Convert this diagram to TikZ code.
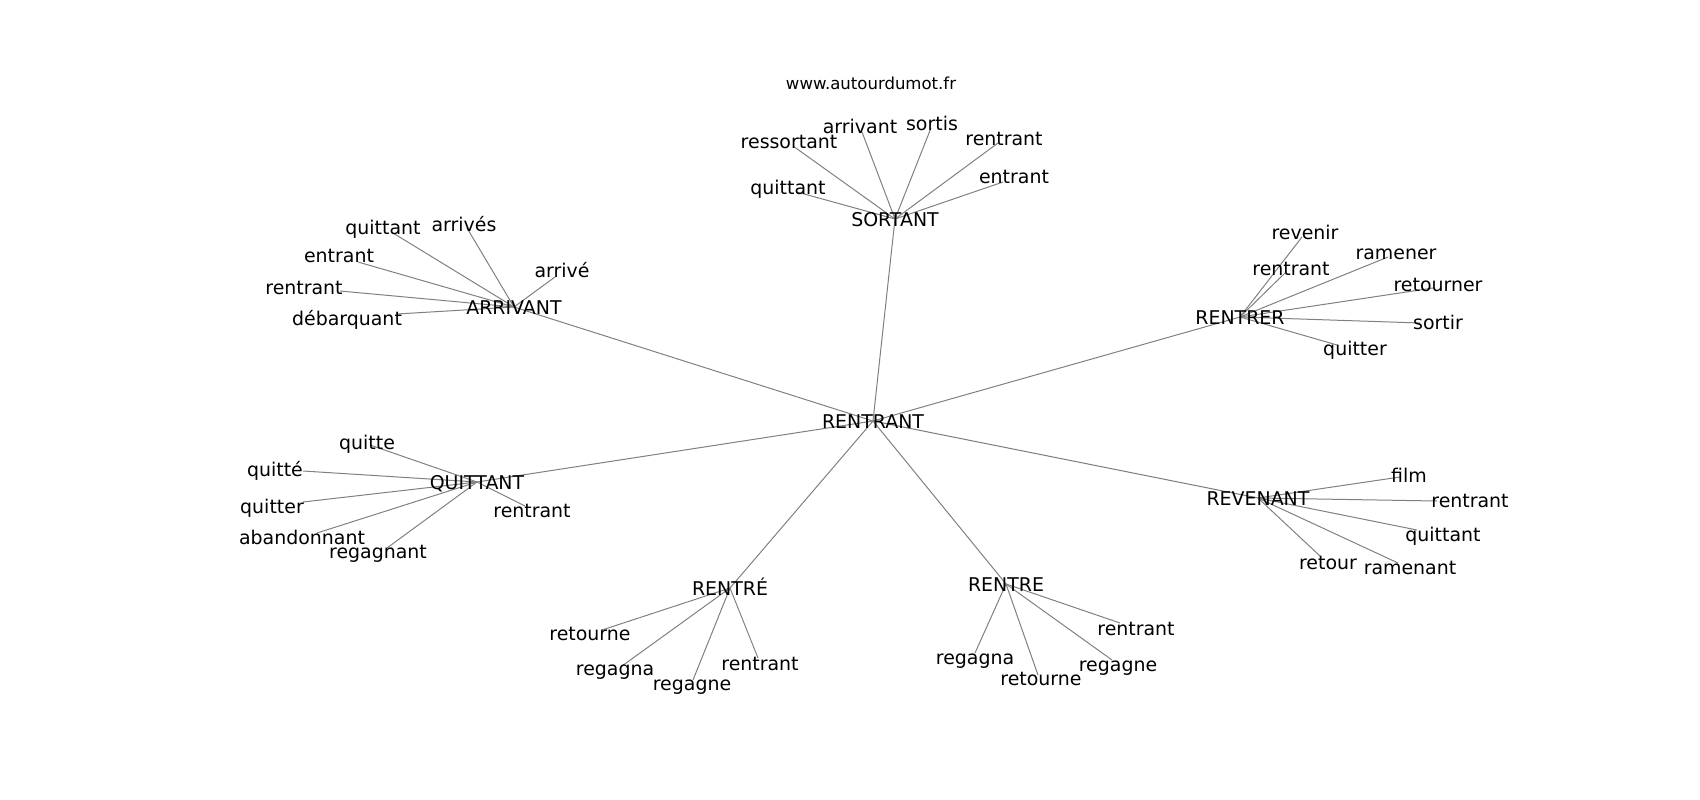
\documentclass[tikz,border=0pt]{standalone}
\usepackage{fontspec}
\setmainfont{DejaVu Sans}
\usetikzlibrary{backgrounds}

\begin{document}
\begin{tikzpicture}[x=0.75pt,y=0.75pt,yscale=-1,xscale=1,
  word/.style={inner sep=0pt, font=\fontsize{14.2}{16}\selectfont, text height=15.3pt, text depth=3.4pt},
  site/.style={inner sep=0pt, font=\fontsize{12.4}{14}\selectfont},
  link/.style={draw={rgb, 255:red, 128; green, 128; blue, 128 }, line width=0.75pt}]
\useasboundingbox (0,0) rectangle (1700,800);

% Text Node
\node [site] (site) at (871,83) {www.autourdumot.fr};

% Hubs
\node [word] (rentrant) at (873,421) {RENTRANT};
\node [word] (sortant) at (895,219) {SORTANT};
\node [word] (arrivant) at (514,307) {ARRIVANT};
\node [word] (rentrer) at (1240,317) {RENTRER};
\node [word] (quittant) at (477,482) {QUITTANT};
\node [word] (revenant) at (1258,498) {REVENANT};
\node [word] (rentreE) at (730,588) {RENTRÉ};
\node [word] (rentre) at (1006,584) {RENTRE};

% Text Node - SORTANT
\node [word] (so-quittant) at (788,187) {quittant};
\node [word] (so-ressortant) at (789,141) {ressortant};
\node [word] (so-arrivant) at (860,126) {arrivant};
\node [word] (so-sortis) at (932,123) {sortis};
\node [word] (so-rentrant) at (1004,138) {rentrant};
\node [word] (so-entrant) at (1014,176) {entrant};
\coordinate (so-quittant-p) at (797,192);
\coordinate (so-ressortant-p) at (793,146);
\coordinate (so-arrivant-p) at (862,132);
\coordinate (so-sortis-p) at (931,128);
\coordinate (so-rentrant-p) at (998,143);
\coordinate (so-entrant-p) at (1003,182);

% Text Node - ARRIVANT
\node [word] (ar-quittant) at (383,227) {quittant};
\node [word] (ar-arrives) at (464,224) {arrivés};
\node [word] (ar-entrant) at (339,255) {entrant};
\node [word] (ar-rentrant) at (304,287) {rentrant};
\node [word] (ar-debarquant) at (347,318) {débarquant};
\node [word] (ar-arrive) at (562,270) {arrivé};
\coordinate (ar-quittant-p) at (393,233);
\coordinate (ar-arrives-p) at (467,228);
\coordinate (ar-entrant-p) at (358,262);
\coordinate (ar-rentrant-p) at (340,291);
\coordinate (ar-debarquant-p) at (397,314);
\coordinate (ar-arrive-p) at (555,277);

% Text Node - RENTRER
\node [word] (rr-revenir) at (1305,232) {revenir};
\node [word] (rr-rentrant) at (1291,268) {rentrant};
\node [word] (rr-ramener) at (1396,252) {ramener};
\node [word] (rr-retourner) at (1438,284) {retourner};
\node [word] (rr-sortir) at (1438,322) {sortir};
\node [word] (rr-quitter) at (1355,348) {quitter};
\coordinate (rr-revenir-p) at (1302,237);
\coordinate (rr-rentrant-p) at (1285,273);
\coordinate (rr-ramener-p) at (1388,257);
\coordinate (rr-retourner-p) at (1433,288);
\coordinate (rr-sortir-p) at (1420,323);
\coordinate (rr-quitter-p) at (1337,345);

% Text Node - QUITTANT
\node [word] (qu-quitte) at (367,442) {quitte};
\node [word] (qu-quitte2) at (275,469) {quitté};
\node [word] (qu-quitter) at (272,506) {quitter};
\node [word] (qu-abandonnant) at (302,537) {abandonnant};
\node [word] (qu-regagnant) at (378,551) {regagnant};
\node [word] (qu-rentrant) at (532,510) {rentrant};
\coordinate (qu-quitte-p) at (370,445);
\coordinate (qu-quitte2-p) at (303,471);
\coordinate (qu-quitter-p) at (303,502);
\coordinate (qu-abandonnant-p) at (317,533);
\coordinate (qu-regagnant-p) at (387,548);
\coordinate (qu-rentrant-p) at (525,506);

% Text Node - REVENANT
\node [word] (rv-film) at (1409,475) {film};
\node [word] (rv-rentrant) at (1470,500) {rentrant};
\node [word] (rv-quittant) at (1443,534) {quittant};
\node [word] (rv-retour) at (1328,562) {retour};
\node [word] (rv-ramenant) at (1410,567) {ramenant};
\coordinate (rv-film-p) at (1400,477);
\coordinate (rv-rentrant-p) at (1437,501);
\coordinate (rv-quittant-p) at (1417,530);
\coordinate (rv-retour-p) at (1320,556);
\coordinate (rv-ramenant-p) at (1398,563);

% Text Node - RENTRÉ
\node [word] (re-retourne) at (590,633) {retourne};
\node [word] (re-regagna) at (615,668) {regagna};
\node [word] (re-regagne) at (692,683) {regagne};
\node [word] (re-rentrant) at (760,663) {rentrant};
\coordinate (re-retourne-p) at (602,630);
\coordinate (re-regagna-p) at (622,666);
\coordinate (re-regagne-p) at (693,680);
\coordinate (re-rentrant-p) at (758,658);

% Text Node - RENTRE
\node [word] (rb-rentrant) at (1136,628) {rentrant};
\node [word] (rb-regagna) at (975,657) {regagna};
\node [word] (rb-retourne) at (1041,678) {retourne};
\node [word] (rb-regagne) at (1118,664) {regagne};
\coordinate (rb-rentrant-p) at (1120,623);
\coordinate (rb-regagna-p) at (975,653);
\coordinate (rb-retourne-p) at (1038,675);
\coordinate (rb-regagne-p) at (1112,660);

\begin{pgfonlayer}{background}
%Straight Lines - centre
\draw [link] (rentrant.center) -- (sortant.center);
\draw [link] (rentrant.center) -- (arrivant.center);
\draw [link] (rentrant.center) -- (rentrer.center);
\draw [link] (rentrant.center) -- (quittant.center);
\draw [link] (rentrant.center) -- (revenant.center);
\draw [link] (rentrant.center) -- (rentreE.center);
\draw [link] (rentrant.center) -- (rentre.center);
%Straight Lines - SORTANT
\draw [link] (sortant.center) -- (so-quittant-p);
\draw [link] (sortant.center) -- (so-ressortant-p);
\draw [link] (sortant.center) -- (so-arrivant-p);
\draw [link] (sortant.center) -- (so-sortis-p);
\draw [link] (sortant.center) -- (so-rentrant-p);
\draw [link] (sortant.center) -- (so-entrant-p);
%Straight Lines - ARRIVANT
\draw [link] (arrivant.center) -- (ar-quittant-p);
\draw [link] (arrivant.center) -- (ar-arrives-p);
\draw [link] (arrivant.center) -- (ar-entrant-p);
\draw [link] (arrivant.center) -- (ar-rentrant-p);
\draw [link] (arrivant.center) -- (ar-debarquant-p);
\draw [link] (arrivant.center) -- (ar-arrive-p);
%Straight Lines - RENTRER
\draw [link] (rentrer.center) -- (rr-revenir-p);
\draw [link] (rentrer.center) -- (rr-rentrant-p);
\draw [link] (rentrer.center) -- (rr-ramener-p);
\draw [link] (rentrer.center) -- (rr-retourner-p);
\draw [link] (rentrer.center) -- (rr-sortir-p);
\draw [link] (rentrer.center) -- (rr-quitter-p);
%Straight Lines - QUITTANT
\draw [link] (quittant.center) -- (qu-quitte-p);
\draw [link] (quittant.center) -- (qu-quitte2-p);
\draw [link] (quittant.center) -- (qu-quitter-p);
\draw [link] (quittant.center) -- (qu-abandonnant-p);
\draw [link] (quittant.center) -- (qu-regagnant-p);
\draw [link] (quittant.center) -- (qu-rentrant-p);
%Straight Lines - REVENANT
\draw [link] (revenant.center) -- (rv-film-p);
\draw [link] (revenant.center) -- (rv-rentrant-p);
\draw [link] (revenant.center) -- (rv-quittant-p);
\draw [link] (revenant.center) -- (rv-retour-p);
\draw [link] (revenant.center) -- (rv-ramenant-p);
%Straight Lines - RENTRÉ
\draw [link] (rentreE.center) -- (re-retourne-p);
\draw [link] (rentreE.center) -- (re-regagna-p);
\draw [link] (rentreE.center) -- (re-regagne-p);
\draw [link] (rentreE.center) -- (re-rentrant-p);
%Straight Lines - RENTRE
\draw [link] (rentre.center) -- (rb-rentrant-p);
\draw [link] (rentre.center) -- (rb-regagna-p);
\draw [link] (rentre.center) -- (rb-retourne-p);
\draw [link] (rentre.center) -- (rb-regagne-p);
\end{pgfonlayer}

\end{tikzpicture}
\end{document}
